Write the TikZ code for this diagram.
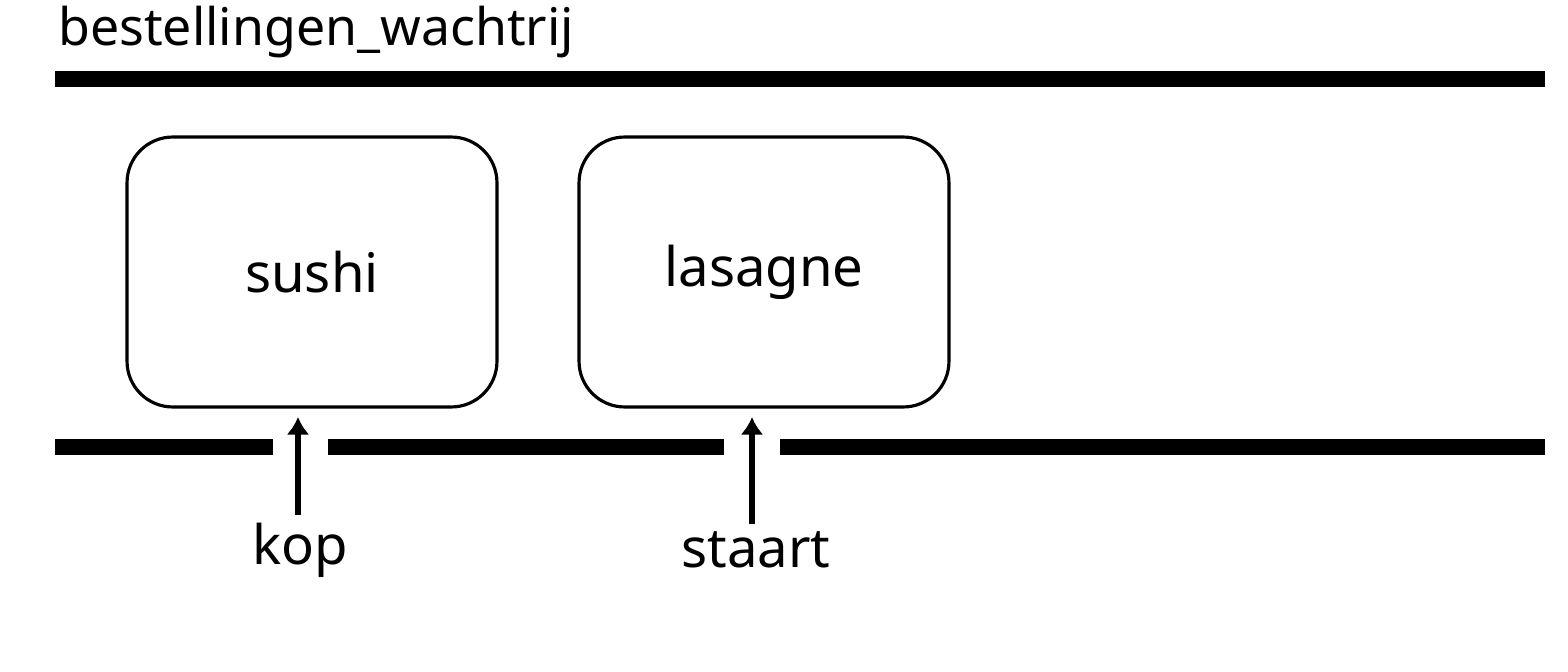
\documentclass[tikz,border=0pt]{standalone}
\usepackage{fontspec}
\setmainfont{Noto Sans}
\usetikzlibrary{positioning,arrows.meta}
\tikzset{
  slot/.style={draw,line width=1.8pt,rounded corners=26pt,minimum width=7.4cm,minimum height=5.4cm,font=\fontsize{31}{36}\selectfont},
  rail/.style={line width=9pt},
  pointer/.style={-{Latex[length=10pt,width=13pt]},line width=3.4pt},
  tag/.style={font=\fontsize{31}{36}\selectfont}
}
\begin{document}
\begin{tikzpicture}[x=0.02cm,y=-0.02cm]
  \useasboundingbox (0,0) rectangle (1568,672);
  % queue name
  \node[anchor=base west,inner sep=0pt,font=\fontsize{29.5}{36}\selectfont] (title) at (58,46) {bestellingen\_wachtrij};
  % rails
  \draw[rail] (55,79) -- (1545,79);
  \draw[rail] (55,447) -- (273,447);
  \draw[rail] (328,447) -- (724,447);
  \draw[rail] (780,447) -- (1545,447);
  % items
  \node[slot] (sushi) at (312,272) {sushi};
  \node[slot] (lasagne) at (764,272) {lasagne};
  % pointers
  \node[tag] (kop) at (300,550) {kop};
  \node[tag] (staart) at (756,550) {staart};
  \draw[pointer] (kop.north -| 298,0) ++(0,-2) coordinate (k) -- (298,417);
  \draw[pointer] (staart.north -| 752,0) ++(0,-2) coordinate (s) -- (752,417);
\end{tikzpicture}
\end{document}
